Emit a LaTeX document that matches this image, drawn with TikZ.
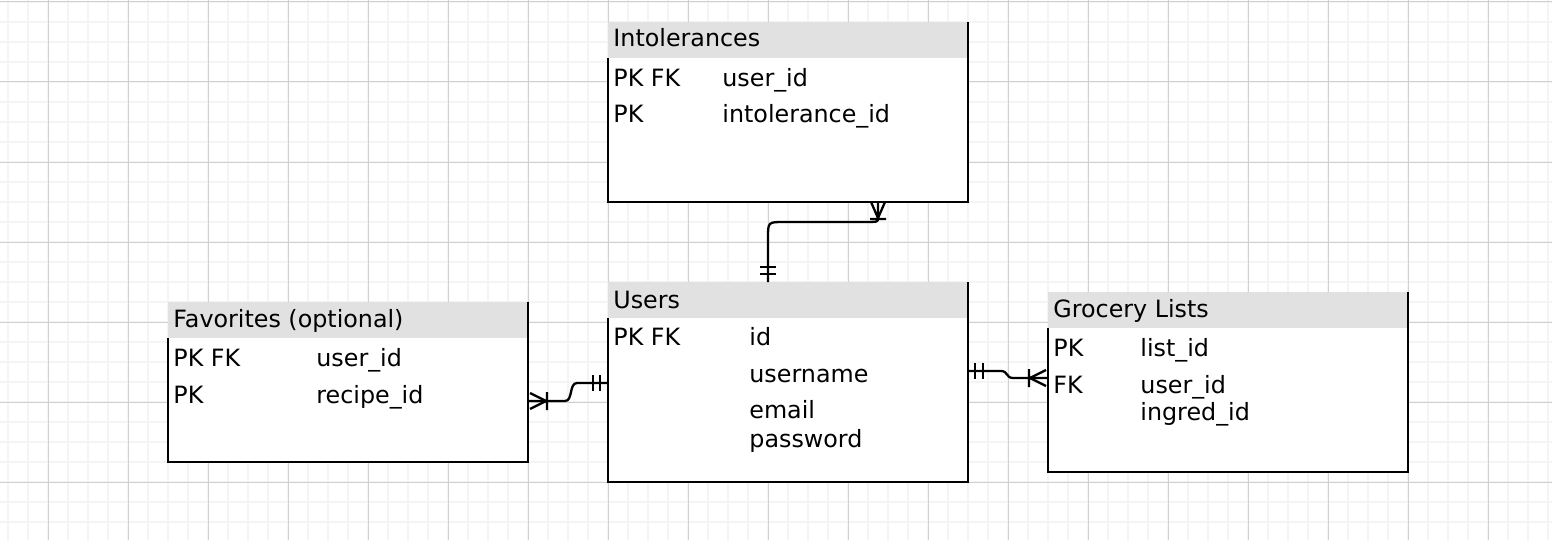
\documentclass[tikz,border=0pt]{standalone}
\usepackage{fontspec}
\setmainfont{DejaVu Sans}
\usetikzlibrary{positioning,calc}
\definecolor{hdrgray}{HTML}{E1E1E1}
\definecolor{gridminor}{HTML}{F4F4F4}
\definecolor{gridmajor}{HTML}{D0D0D0}

\begin{document}
\begin{tikzpicture}[
        x=0.5pt, y=-0.5pt,
        node distance=0pt,
        hdr/.style = {rectangle, fill=hdrgray,% header strip of a table
                minimum width=180pt, minimum height=18pt,
                inner sep=0pt, outer sep=0pt, anchor=north west},
        body/.style = {rectangle, fill=white,
                minimum width=180pt, inner sep=0pt, outer sep=0pt},
        frame/.style = {line width=1.25pt, line join=miter},
        txt/.style = {anchor=base west, inner sep=0pt,
                font=\fontsize{11.9pt}{14pt}\selectfont},
        rel/.style = {line width=1.15pt},
    ]
    \useasboundingbox (0,0) rectangle (1552,540);
    \fill[white] (0,0) rectangle (1552,540);
    % background grid
    \foreach \x in {8,28,...,1548}
    \draw[gridminor, line width=1pt] (\x,0) -- (\x,540);
    \foreach \y in {2,22,...,522}
    \draw[gridminor, line width=1pt] (0,\y) -- (1552,\y);
    \foreach \x in {48,128,...,1528}
    \draw[gridmajor, line width=0.5pt] (\x,0) -- (\x,540);
    \foreach \y in {2,82,...,482}
    \draw[gridmajor, line width=0.5pt] (0,\y) -- (1552,\y);
    % tables: name/left/top/height
    \foreach \n/\x/\y/\h in {intol/608/22/180, users/608/282/200, fav/168/302/160, groc/1048/292/180}
    {
    \node[hdr] (\n-h) at (\x,\y) {};
    \node[body, below=of \n-h, minimum height={(\h-36)*0.5pt}] (\n) {};
    \draw[frame] (\n-h.north east) -- (\n.south east) -- (\n.south west) -- (\n.north west);
    }
    % table texts: x/baseline/text
    \foreach \x/\y/\t [count=\i] in {
        613/47/Intolerances, 613/87/PK FK, 722/87/user\_id, 613/123/PK, 722/123/intolerance\_id,
        613/308/Users, 613/345/PK FK, 749/345/id, 749/382/username, 749/418/email, 749/447/password,
        173/327/Favorites (optional), 173/366/PK FK, 316/366/user\_id, 173/403/PK, 316/403/recipe\_id,
        1053/317/Grocery Lists, 1053/356/PK, 1140/356/list\_id, 1053/393/FK, 1140/393/user\_id, 1140/420/ingred\_id}
    \node[txt] (t\i) at (\x,\y) {\t};
    % relations
    \coordinate (u-n) at ($(users-h.north west)+(160,0)$);
    \coordinate (i-s) at ($(intol.south west)+(270,0)$);
    \coordinate (u-w) at ($(users.north west)+(0,65)$);
    \coordinate (f-e) at ($(fav.north east)+(0,63)$);
    \coordinate (u-e) at ($(users.north east)+(0,53)$);
    \coordinate (g-w) at ($(groc.north west)+(0,50)$);
    \draw[rel] (u-n) -- ($(u-n)+(0,-44)$) .. controls ($(u-n)+(0,-60)$) .. ($(u-n)+(16,-60)$)
        -- ($(i-s)+(-14,20)$) .. controls ($(i-s)+(0,20)$) .. ($(i-s)+(0,16)$) -- (i-s);
    \draw[rel] (u-w) -- ($(u-w)+(-31,0)$) .. controls ($(u-w)+(-39,0)$) and ($(f-e)+(45,0)$)
        .. ($(f-e)+(37,0)$) -- (f-e);
    \draw[rel] (u-e) -- ($(u-e)+(33,0)$) .. controls ($(u-e)+(40,0)$) and ($(g-w)+(-42,0)$)
        .. ($(g-w)+(-35,0)$) -- (g-w);
    % markers: mandatory one (two bars), one or many (bar and foot)
    \draw[rel] ($(u-n)+(-8,-8)$) -- ++(16,0) ($(u-n)+(-8,-15)$) -- ++(16,0);
    \draw[rel] ($(i-s)+(-7,0)$) -- ($(i-s)+(0,16)$) -- ($(i-s)+(7,0)$) ($(i-s)+(-8,17)$) -- ++(16,0);
    \draw[rel] ($(u-w)+(-8,-8)$) -- ++(0,16) ($(u-w)+(-15,-8)$) -- ++(0,16);
    \draw[rel] ($(f-e)+(2,-8)$) -- ($(f-e)+(18,0)$) -- ($(f-e)+(2,8)$) ($(f-e)+(19,-9)$) -- ++(0,18);
    \draw[rel] ($(u-e)+(7,-8)$) -- ++(0,16) ($(u-e)+(15,-8)$) -- ++(0,16);
    \draw[rel] ($(g-w)+(-2,-8)$) -- ($(g-w)+(-18,0)$) -- ($(g-w)+(-2,8)$) ($(g-w)+(-19,-9)$) -- ++(0,18);
\end{tikzpicture}
\end{document}
